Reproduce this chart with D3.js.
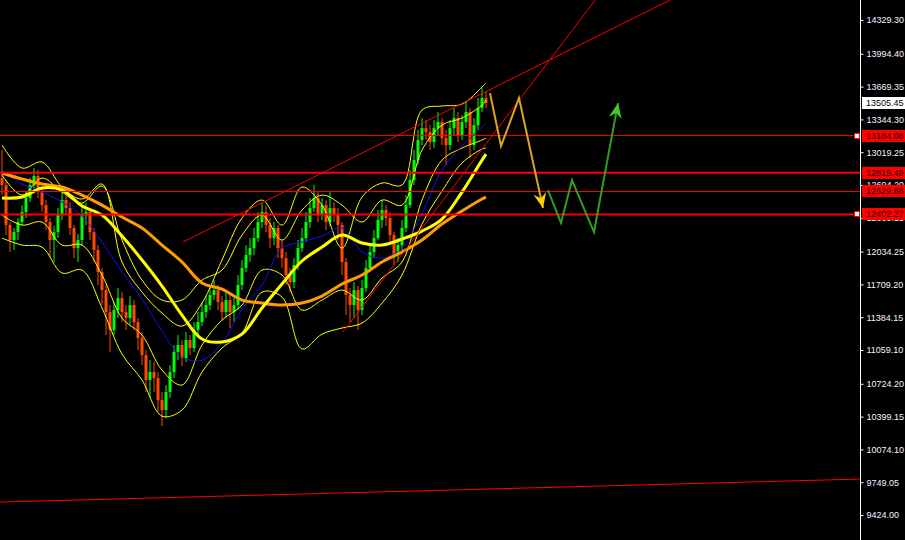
<!DOCTYPE html>
<html><head><meta charset="utf-8">
<script src="https://cdn.jsdelivr.net/npm/d3@7"></script>
<style>html,body{margin:0;padding:0;background:#000;overflow:hidden}</style>
</head><body>
<svg id="c" width="905" height="540"></svg>
<script>
// ---------- DATA ----------
const firstOpen = 12763;
const closes = [12694,12297,12149,12228,12327,12426,12565,12694,12783,12624,
12495,12327,12149,12228,12396,12545,12466,12268,12069,12149,
12396,12426,12228,12050,11832,11653,11435,11257,11455,11574,
11435,11376,11504,11336,11178,11009,10761,10840,10781,10563,
10464,10642,10840,11039,11108,10979,11158,11078,11257,11336,
11435,11504,11604,11653,11534,11435,11554,11435,11504,11703,
11871,12000,12069,12168,12327,12426,12297,12168,12268,12069,
11970,11802,11732,11901,12069,12168,12327,12466,12565,12396,
12495,12327,12466,12396,12297,11931,11604,11504,11653,11455,
11673,11871,12030,12168,12347,12446,12367,12198,12000,12099,
12268,12495,12743,12941,13140,13258,13219,13120,13258,13318,
13159,13090,13258,13358,13189,13318,13417,13090,13288,13457,
13556,13505.45];
const highs = [13041,12743,12327,12268,12367,12495,12624,12763,12862,12842,
12684,12545,12367,12287,12466,12624,12585,12525,12297,12208,
12495,12515,12466,12268,12099,11871,11703,11504,11534,11673,
11633,11504,11594,11554,11376,11237,11059,10959,10940,10840,
10642,10712,10910,11108,11207,11158,11237,11207,11336,11435,
11534,11594,11703,11752,11703,11594,11633,11604,11574,11802,
11951,12099,12168,12268,12426,12515,12486,12367,12327,12297,
12149,12030,11871,11970,12149,12268,12426,12565,12694,12624,
12565,12545,12624,12525,12466,12327,11970,11673,11732,11693,
11752,11951,12099,12248,12446,12545,12495,12426,12228,12168,
12347,12594,12842,13041,13239,13358,13338,13288,13338,13417,
13358,13239,13338,13457,13417,13387,13516,13457,13358,13556,
13655,13615];
const lows = [12594,12198,12030,12050,12149,12297,12367,12525,12644,12565,
12426,12248,11970,11931,12168,12347,12396,12198,11970,11931,
12099,12297,12149,11931,11703,11504,11207,11039,11207,11376,
11336,11257,11306,11257,11059,10910,10642,10583,10642,10444,
10305,10385,10583,10781,10959,10900,10940,11009,11039,11197,
11296,11376,11455,11554,11455,11356,11376,11277,11336,11455,
11653,11832,11931,12000,12129,12268,12228,12069,12099,11970,
11871,11703,11633,11673,11851,12030,12129,12268,12426,12327,
12347,12248,12287,12327,12149,11802,11405,11336,11376,11257,
11405,11633,11832,11970,12149,12268,12287,12129,11901,11931,
12050,12228,12466,12694,12892,13090,13140,13041,13060,13189,
13090,12892,13041,13189,13120,13140,13258,12961,13041,13239,
13417,13457];

// indicator samples (bar index -> value)
const sampleIdx = [0,5,10,15,20,25,30,35,40,45,50,55,60,65,70,75,80,85,90,95,100,105,110,115,120,121];
const maSlow = [12813,12753,12704,12674,12594,12495,12377,12268,12099,11931,11723,11663,11554,11524,11504,11524,11594,11713,11802,11931,12030,12149,12307,12436,12555,12575];
const maMid  = [12565,12575,12664,12644,12486,12396,12188,11951,11693,11405,11168,11138,11217,11475,11713,11941,12079,12198,12119,12099,12159,12238,12357,12624,12941,13001];
const maFast = [12842,12704,12624,12525,12386,12129,11832,11564,11247,10989,10959,11128,11465,11703,12069,12129,12188,12268,12030,11970,12069,12416,12842,13080,13268,13308];
const bandUpper = [13090,12862,12922,12674,12555,12704,11931,11633,11425,11296,11524,11951,12367,12545,12297,12674,12495,12069,12575,12714,12694,13437,13477,13496,13665,13704];
const bandLower = [12168,12099,12079,11822,11851,11475,11019,10761,10404,10464,10840,11078,11227,11633,11584,11069,11217,11277,11326,11524,11802,12307,12634,12912,13050,13060];
const innerUpper = [12793,12594,12763,12624,12515,12684,12149,11752,11554,11554,11752,11851,12198,12396,12149,12446,12594,12495,12327,12545,12495,13041,13288,13358,13486,13536];
const innerLower = [12396,12297,12327,12099,12099,11802,11376,11207,10860,10712,11108,11356,11504,11851,11802,11455,11554,11653,11554,11772,11931,12545,12941,13060,13140,13159];

const levels = [13184.08, 12815.49, 12629.88, 12402.27];
const levelWide = [false, true, false, true];
const lastPrice = 13505.45;
const tickVals = [14329.30,13994.40,13669.35,13344.30,13019.25,12694.20,12369.15,12034.25,11709.20,11384.15,11059.10,10724.20,10399.15,10074.10,9749.05,9424.00];

// trendlines: [idx, price] pairs
const trendUpper = [[45.25,12129],[120,13601]];
const trendSteep = [[85.25,11237],[135,13833]];
const trendBottom = [[-0.5,9552],[214.5,9780]];

// forecast arrows: [idx, price]
const pathOrange = [[122,13605],[124.75,13080],[129.25,13556],[135.25,12466]];
const pathGreen = [[136.5,12644],[139.75,12317],[142.5,12743],[148,12228],[154,13506]];

// ---------- DRAW ----------
const W = 905, H = 540, PR = 860;
const svg = d3.select('#c');
svg.append('rect').attr('width', W).attr('height', H).attr('fill', '#000');
const x = d3.scaleLinear().domain([-0.5, 214.5]).range([0, PR]);
const y = d3.scaleLinear().domain([9424, 14329.3]).range([515, 20]);

svg.append('clipPath').attr('id','clip').append('rect').attr('x',0).attr('y',0).attr('width',PR).attr('height',H);
const g = svg.append('g').attr('clip-path','url(#clip)');

// candles
const bars = closes.map((c,i)=>{
  const o = i===0 ? firstOpen : closes[i-1];
  return {i, o, c, h: Math.max(highs[i], o, c), l: Math.min(lows[i], o, c)};
});
const UP = '#00ff00', DN = '#ff4a00';
g.selectAll('.wick').data(bars).enter().append('rect')
  .attr('x', d=>Math.round(x(d.i))-0.5).attr('width',1)
  .attr('y', d=>y(d.h)).attr('height', d=>Math.max(1, y(d.l)-y(d.h)))
  .attr('fill', d=>d.c>=d.o?UP:DN);
g.selectAll('.body').data(bars).enter().append('rect')
  .attr('x', d=>Math.round(x(d.i))-1.5).attr('width',3)
  .attr('y', d=>y(Math.max(d.o,d.c))).attr('height', d=>Math.max(1, Math.abs(y(d.o)-y(d.c))))
  .attr('fill', d=>d.c>=d.o?UP:DN);

function series(vals){ return sampleIdx.map((k,j)=>[k, vals[j]]); }
const line = d3.line().x(d=>x(d[0])).y(d=>y(d[1])).curve(d3.curveCatmullRom.alpha(0.5));
const band = (vals)=>g.append('path').attr('d', line(series(vals))).attr('fill','none').attr('stroke','#ffff00').attr('stroke-width',1);
band(bandUpper); band(bandLower); band(innerUpper); band(innerLower);
g.append('path').attr('d', line(series(maFast))).attr('fill','none').attr('stroke','#1010ff').attr('stroke-width',1);
g.append('path').attr('d', line(series(maSlow))).attr('fill','none').attr('stroke','#ff9c00').attr('stroke-width',3);
g.append('path').attr('d', line(series(maMid))).attr('fill','none').attr('stroke','#ffff00').attr('stroke-width',3);

// horizontal levels
levels.forEach((v,k)=>{
  g.append('line').attr('x1',0).attr('x2',PR).attr('y1',y(v)).attr('y2',y(v))
   .attr('stroke','#ff0000').attr('stroke-width', levelWide[k]?2:1);
});

// trendlines
function ray(pts, ext){
  const [a,b] = pts;
  const slope = (b[1]-a[1])/(b[0]-a[0]);
  const endIdx = ext ? 214.5 : b[0];
  const endP = a[1] + slope*(endIdx-a[0]);
  g.append('line').attr('x1',x(a[0])).attr('y1',y(a[1])).attr('x2',x(endIdx)).attr('y2',y(endP))
   .attr('stroke','#ff0000').attr('stroke-width',1);
}
ray(trendUpper,true); ray(trendSteep,true); ray(trendBottom,false);

// forecast arrows
const straight = d3.line().x(d=>x(d[0])).y(d=>y(d[1]));
function arrow(pts, lineCol, headCol){
  g.append('path').attr('d', straight(pts)).attr('fill','none').attr('stroke',lineCol).attr('stroke-width',2).attr('stroke-linejoin','miter');
  const p1 = pts[pts.length-2], p2 = pts[pts.length-1];
  const x1=x(p1[0]), y1=y(p1[1]), x2=x(p2[0]), y2=y(p2[1]);
  const ang = Math.atan2(y2-y1, x2-x1);
  const L=15, Wd=6.5, N=10;
  const bx = x2 - L*Math.cos(ang), by = y2 - L*Math.sin(ang);
  const nx = x2 - N*Math.cos(ang), ny = y2 - N*Math.sin(ang);
  const px = -Math.sin(ang), py = Math.cos(ang);
  const poly = [[x2,y2],[bx+px*Wd, by+py*Wd],[nx,ny],[bx-px*Wd, by-py*Wd]];
  g.append('polygon').attr('points', poly.map(p=>p.join(',')).join(' ')).attr('fill',headCol);
}
arrow(pathOrange, '#d9a521', '#ffcc00');
arrow(pathGreen, '#2fa01c', '#3dcc22');

// ---------- AXIS ----------
svg.append('line').attr('x1',PR+0.5).attr('x2',PR+0.5).attr('y1',0).attr('y2',H).attr('stroke','#ffffff').attr('stroke-width',1);
const ax = svg.append('g').attr('transform',`translate(${PR+0.5},0)`)
  .call(d3.axisRight(y).tickValues(tickVals).tickSize(3).tickPadding(3).tickFormat(d=>d.toFixed(2)));
ax.select('.domain').remove();
ax.selectAll('line').attr('stroke','#ffffff');
ax.selectAll('text').attr('fill','#f4f4ff').style('font-family','"Liberation Sans", Arial, sans-serif').style('font-size','9px');

function priceBox(v, fill, txt){
  const yy = Math.round(y(v));
  svg.append('rect').attr('x',PR+2).attr('y',yy-6).attr('width',W-PR-2).attr('height',12).attr('fill',fill);
  svg.append('text').attr('x',PR+6).attr('y',yy).attr('dy','0.35em').attr('fill',txt)
    .style('font-family','"Liberation Sans", Arial, sans-serif').style('font-size','9px').text(v.toFixed(2));
}
levels.forEach(v=>priceBox(v,'#ff0000','#1a0000'));
priceBox(lastPrice,'#ffffff','#000000');
[levels[0], levels[3]].forEach(v=>{
  svg.append('rect').attr('x',PR-5.5).attr('y',Math.round(y(v))-2.5).attr('width',5).attr('height',5)
    .attr('fill','#ffffff').attr('stroke','#ff0000').attr('stroke-width',1);
});
</script>
</body></html>
